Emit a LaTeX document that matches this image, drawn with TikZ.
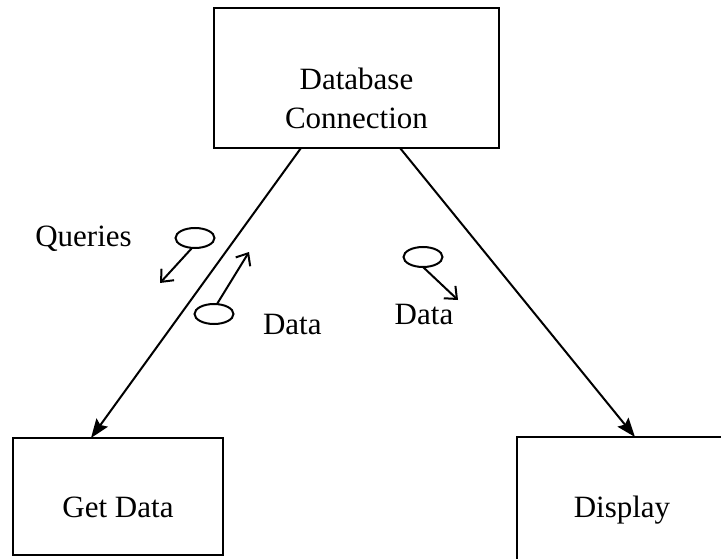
\documentclass[tikz,border=0pt]{standalone}
\usepackage{fontspec}
\setmainfont{Liberation Serif}
\usetikzlibrary{arrows.meta,shapes.geometric}

\begin{document}
\begin{tikzpicture}[x=1pt,y=-1pt,
  every node/.style={inner sep=0pt,outer sep=0pt},
  boxnode/.style={draw,line width=2.5pt,rectangle,anchor=north west},
  txt/.style={font=\fontsize{31}{39}\selectfont},
  flowmark/.style={draw,ellipse,line width=2pt,minimum width=39pt,minimum height=20pt},
  mainlink/.style={line width=2pt,-{Stealth[length=19pt,width=14pt,inset=3pt]}},
  flowarrow/.style={line width=2pt,-{Straight Barb[length=10pt,width=17pt]}}]
  \useasboundingbox (0,0) rectangle (721,559);

  % process boxes
  \node[boxnode,minimum width=285pt,minimum height=140pt] (db) at (214,8) {};
  \node[boxnode,minimum width=210pt,minimum height=117pt] (gd) at (13,438) {};
  \node[boxnode,minimum width=260pt,minimum height=180pt] (disp) at (517,437) {};

  % box captions
  \node[txt,align=center] (dbtext) at (356.5,98) {Database\\Connection};
  \node[txt,anchor=base] (gdtext) at (118,517) {Get Data};
  \node[txt,anchor=base] (disptext) at (622,517) {Display};

  % links between the processes
  \draw[mainlink] ([xshift=87pt]db.south west) -- ([xshift=78pt]gd.north west);
  \draw[mainlink] ([xshift=186pt]db.south west) -- ([xshift=118pt]disp.north west);

  % data flow markers
  \node[flowmark] (qmark) at (195,238) {};
  \coordinate (qtip) at (160,283);
  \draw[flowarrow] ([xshift=-3pt]qmark.south) -- (qtip);
  \node[txt,anchor=base] (qlabel) at (83.5,247) {Queries};

  \node[flowmark] (dmark) at (214,314) {};
  \coordinate (dtip) at (249,252);
  \draw[flowarrow] ([xshift=3pt]dmark.north) -- (dtip);
  \node[txt,anchor=base west] (dlabel) at (263,334) {Data};

  \node[flowmark] (omark) at (423,257) {};
  \coordinate (otip) at (458,300);
  \draw[flowarrow] (omark.south) -- (otip);
  \node[txt,anchor=base] (olabel) at (424,324) {Data};
\end{tikzpicture}
\end{document}
